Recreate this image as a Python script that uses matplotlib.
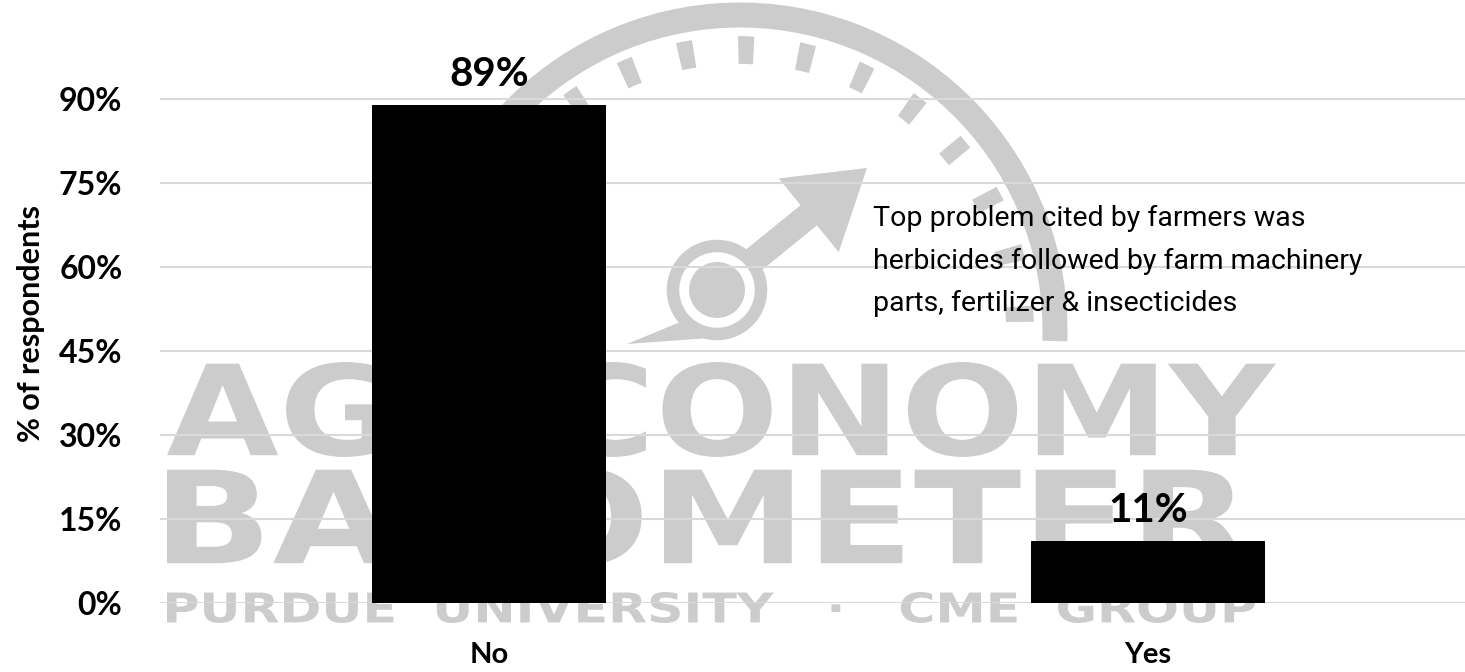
import matplotlib.pyplot as plt
import matplotlib.ticker as ticker
from matplotlib.patches import Arc, Circle, FancyArrow, PathPatch, Polygon
from matplotlib.textpath import TextPath
from matplotlib.font_manager import FontProperties
from matplotlib.transforms import Affine2D
import numpy as np

categories = ['No', 'Yes']
values = [0.89, 0.11]
bar_labels = ['89%', '11%']
y_ticks = [0, 0.15, 0.30, 0.45, 0.60, 0.75, 0.90]
note = ('Top problem cited by farmers was\n'
        'herbicides followed by farm machinery\n'
        'parts, fertilizer & insecticides')

W, H = 1465, 672
fig = plt.figure(figsize=(W / 100, H / 100), dpi=100)

# watermark layer (logo), drawn in pixel coordinates, y pointing down
bg = fig.add_axes([0, 0, 1, 1], zorder=0)
bg.set_xlim(0, W)
bg.set_ylim(H, 0)
bg.axis('off')
wm = '#cccccc'


def fit_text(s, x0, x1, y0, y1):
    tp = TextPath((0, 0), s, size=100, prop=FontProperties(family='DejaVu Sans', weight='bold'))
    ext = tp.get_extents()
    tr = (Affine2D().translate(-ext.x0, -ext.y1)
          .scale((x1 - x0) / ext.width, -(y1 - y0) / ext.height)
          .translate(x0, y0))
    bg.add_patch(PathPatch(tr.transform_path(tp), color=wm, lw=0))


# gauge
bg.add_patch(Arc((740, 330), 630, 630, theta1=180, theta2=362, lw=18, color=wm))
bg.add_patch(Arc((740, 330), 560, 560, theta1=233, theta2=360, lw=20,
                 color=wm, linestyle=(0, (0.55, 1.6))))
bg.add_patch(Circle((717, 290), 44, fill=False, lw=9, color=wm))
bg.add_patch(Circle((717, 290), 28, color=wm, lw=0))
bg.add_patch(Polygon([(690, 318), (710, 338), (627, 344)], closed=True, color=wm, lw=0))
bg.add_patch(FancyArrow(750, 263, 117, -95, width=26, head_width=95,
                        head_length=75, length_includes_head=True, color=wm, lw=0))
fit_text('AG ECONOMY', 167, 1276, 362, 457)
fit_text('BAROMETER', 167, 1247, 468, 565)
fit_text('PURDUE  UNIVERSITY   \u00b7   CME  GROUP', 167, 1255, 592, 623)

ax = fig.add_axes([160 / W, 1 - 603 / H, (W - 160) / W, 560 / H], zorder=1)
ax.patch.set_alpha(0)

x = np.arange(len(categories))
bars = ax.bar(x, values, width=0.355, color='black', zorder=3)
for b, lab in zip(bars, bar_labels):
    ax.text(b.get_x() + b.get_width() / 2, b.get_height() + 0.034, lab,
            ha='center', va='baseline', fontsize=29, fontweight='bold', family='Lato')

ax.set_xlim(-0.499, 1.481)
ax.set_ylim(0, 1.0)
ax.set_yticks(y_ticks)
ax.yaxis.set_major_formatter(ticker.PercentFormatter(1.0, decimals=0))
ax.set_xticks(x)
ax.set_xticklabels(categories)
for lab in ax.get_yticklabels():
    lab.set_fontsize(23)
    lab.set_fontweight('bold')
    lab.set_family('Lato')
for lab in ax.get_xticklabels():
    lab.set_fontsize(21)
    lab.set_fontweight('bold')
    lab.set_family('Lato')
ax.tick_params(axis='both', length=0)
ax.tick_params(axis='x', pad=28)
ax.tick_params(axis='y', pad=27)
ax.grid(axis='y', color='#d9d9d9', lw=1.5, zorder=0)
for s in ax.spines.values():
    s.set_visible(False)
ax.set_ylabel('% of respondents', fontsize=22, fontweight='bold', family='Lato', labelpad=10)

fig.text(873 / W, 1 - 205 / H, note, ha='left', va='top', fontsize=20.5,
         family='Roboto', linespacing=1.74, zorder=4)

fig.savefig('out.png', dpi=100)
